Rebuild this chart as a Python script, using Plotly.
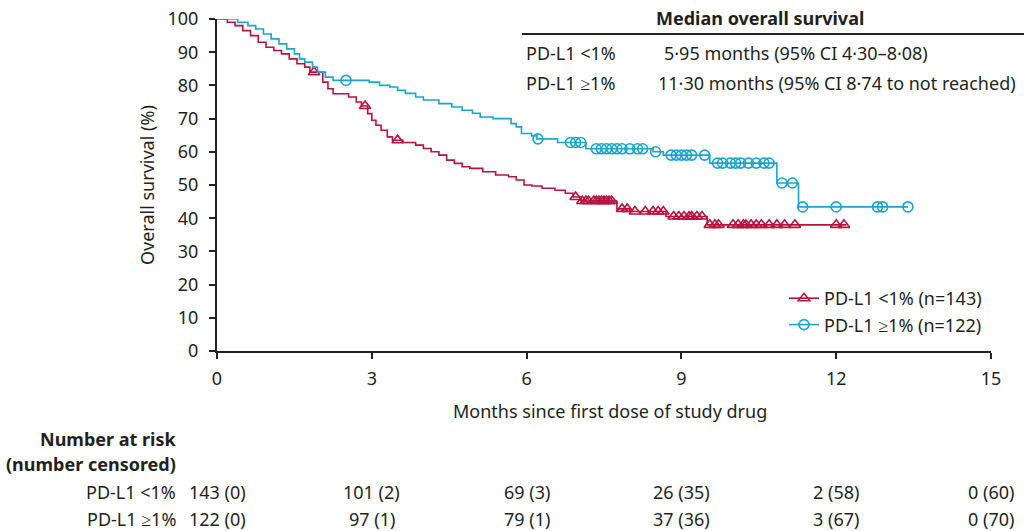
import plotly.graph_objects as go

# ---------------- data ----------------
red_times = [0, 0.2, 0.35, 0.5, 0.65, 0.8, 0.95, 1.1, 1.25, 1.4, 1.55, 1.7, 1.8,
             2.05, 2.15, 2.25, 2.55, 2.7, 2.8, 2.92, 3.0, 3.08, 3.18, 3.3, 3.4,
             3.6, 3.85, 4.0, 4.15, 4.3, 4.45, 4.6, 4.75, 4.9, 5.15, 5.4, 5.65,
             5.8, 5.95, 6.1, 6.3, 6.55, 6.75, 6.9, 7.05, 7.75, 8.0, 8.7, 9.5]
red_surv = [100, 99, 98, 96.5, 95, 93, 91.5, 90.5, 89.5, 88, 86.5, 85.5, 84,
            81, 79, 77.5, 76.5, 75, 73.8, 71.5, 69.5, 68, 66.5, 64.5, 63.5,
            62.8, 62, 61, 60, 59, 57.5, 56.5, 55.5, 55, 54, 53, 52.5,
            51.5, 50, 49.7, 49, 48.4, 47.5, 46.4, 45.2, 42.8, 42, 40.5, 38]
red_end = 12.2
red_censor = [1.88, 2.87, 3.5, 6.95, 7.08, 7.15, 7.2, 7.3, 7.35, 7.4, 7.45, 7.5,
              7.55, 7.6, 7.65, 7.85, 7.95, 8.1, 8.3, 8.45, 8.55, 8.65, 8.85,
              8.95, 9.05, 9.15, 9.2, 9.3, 9.4, 9.55, 9.65, 9.72, 10.0, 10.1,
              10.2, 10.25, 10.35, 10.45, 10.55, 10.7, 10.85, 11.0, 11.2, 12.0,
              12.15]

blue_times = [0, 0.4, 0.6, 0.75, 0.9, 1.05, 1.2, 1.35, 1.5, 1.6, 1.7, 1.85,
              1.95, 2.1, 2.25, 2.95, 3.15, 3.35, 3.5, 3.65, 3.85, 4.0, 4.3,
              4.55, 4.75, 4.95, 5.1, 5.35, 5.7, 5.8, 5.9, 6.1, 6.2, 6.6, 7.15,
              8.45, 8.65, 9.55, 10.85, 11.27]
blue_surv = [100, 99, 98, 97, 95.5, 94, 92.5, 91, 89.5, 88, 87, 85.5,
             84, 82.5, 81.5, 81, 80, 79.5, 78.5, 77.6, 76.5, 75.6, 74.5,
             73.5, 72.5, 71.6, 70.5, 70, 68.5, 67.5, 65.5, 64.8, 63.9, 62.8, 60.9,
             60, 59, 56.6, 50.6, 43.4]
blue_end = 13.39
blue_censor = [2.5, 6.22, 6.85, 6.95, 7.05, 7.35, 7.45, 7.55, 7.65, 7.75, 7.85,
               8.0, 8.15, 8.25, 8.5, 8.8, 8.9, 9.0, 9.1, 9.2, 9.45, 9.7, 9.8,
               9.95, 10.05, 10.15, 10.3, 10.45, 10.6, 10.7, 10.95, 11.15, 11.35,
               12.0, 12.8, 12.9, 13.39]

x_ticks = [0, 3, 6, 9, 12, 15]
y_ticks = list(range(0, 101, 10))

group_labels = ["PD-L1 <1%", "PD-L1 \u22651%"]
legend_labels = ["PD-L1 <1% (n=143)", "PD-L1 \u22651% (n=122)"]
risk_red = ["143 (0)", "101 (2)", "69 (3)", "26 (35)", "2 (58)", "0 (60)"]
risk_blue = ["122 (0)", "97 (1)", "79 (1)", "37 (36)", "3 (67)", "0 (70)"]
median_text = ["5\u00b795 months (95% CI 4\u00b730\u20138\u00b708)",
               "11\u00b730 months (95% CI 8\u00b774 to not reached)"]

# ---------------- styling ----------------
RED = "#B8123E"
BLUE = "#1CA4CC"
TXT = "#231F20"
FONT = "Noto Sans"
FS = 18


def surv_at(t, times, surv):
    val = surv[0]
    for ti, si in zip(times, surv):
        if ti <= t:
            val = si
    return val


fig = go.Figure()

for times, surv, end, cens, color, sym, name in [
    (red_times, red_surv, red_end, red_censor, RED, "triangle-up-open", legend_labels[0]),
    (blue_times, blue_surv, blue_end, blue_censor, BLUE, "circle-open", legend_labels[1]),
]:
    xs = list(times) + [end]
    ys = list(surv) + [surv[-1]]
    fig.add_trace(go.Scatter(x=xs, y=ys, mode="lines", line=dict(color=color, width=1.6, shape="hv"),
                             showlegend=False, hoverinfo="skip", cliponaxis=False))
    fig.add_trace(go.Scatter(x=cens, y=[surv_at(t, times, surv) for t in cens], mode="markers",
                             marker=dict(symbol=sym, size=10, color=color, line=dict(color=color, width=1.6)),
                             showlegend=False, cliponaxis=False))
    fig.add_trace(go.Scatter(x=[None], y=[None], mode="lines+markers", name=name,
                             line=dict(color=color, width=1.6),
                             marker=dict(symbol=sym, size=10, color=color, line=dict(color=color, width=1.6))))

L, R, T, B = 217, 33, 19, 180
W, H = 1024, 531
pw = W - L - R
ph = H - T - B


def px(xp):
    return (xp - L) / pw


def py(yp):
    return (H - B - yp) / ph


def ann(xp, yp, text, xanchor="left", **kw):
    d = dict(x=px(xp), y=py(yp), xref="paper", yref="paper", text=text, showarrow=False,
             xanchor=xanchor, yanchor="middle", font=dict(size=FS, color=TXT))
    d.update(kw)
    return d


annotations = []
annotations.append(ann(147, 185, "Overall survival (%)", xanchor="center", textangle=-90))
annotations.append(ann(610, 411, "Months since first dose of study drug", xanchor="center"))
# median table
annotations.append(ann(760, 18, "<b>Median overall survival</b>", xanchor="center"))
annotations.append(ann(524, 53, group_labels[0]))
annotations.append(ann(524, 83, group_labels[1]))
annotations.append(ann(662, 53, median_text[0]))
annotations.append(ann(656, 83, median_text[1]))
# number at risk
annotations.append(ann(178, 439, "<b>Number at risk</b>", xanchor="right"))
annotations.append(ann(178, 464, "<b>(number censored)</b>", xanchor="right"))
for lab, row, yy in [(group_labels[0], risk_red, 492), (group_labels[1], risk_blue, 519)]:
    annotations.append(ann(178, yy, lab, xanchor="right"))
    for xt, v in zip(x_ticks, row):
        annotations.append(dict(x=xt, y=py(yy), xref="x", yref="paper", text=v, xanchor="center",
                                yanchor="middle", showarrow=False, font=dict(size=FS, color=TXT)))

fig.update_layout(
    width=W, height=H,
    margin=dict(l=L, r=R, t=T, b=B, pad=0, autoexpand=False),
    paper_bgcolor="white", plot_bgcolor="white",
    font=dict(family=FONT, size=FS, color=TXT),
    xaxis=dict(range=[0, 15], tickvals=x_ticks, showgrid=False, zeroline=False, automargin=False,
               showline=True, linecolor="#222", linewidth=2, ticks="outside", ticklen=6,
               tickwidth=1.5, tickcolor="#222", tickfont=dict(size=FS, color=TXT),
               ticklabelstandoff=4),
    yaxis=dict(range=[0, 100], tickvals=y_ticks, showgrid=False, zeroline=False, automargin=False,
               showline=True, linecolor="#222", linewidth=2, ticks="outside", ticklen=6,
               tickwidth=1.5, tickcolor="#222", tickfont=dict(size=FS, color=TXT),
               ticklabelstandoff=7),
    legend=dict(x=px(784), y=py(280), xanchor="left", yanchor="top", bgcolor="rgba(0,0,0,0)",
                font=dict(size=FS, color=TXT), itemwidth=30, tracegroupgap=0),
    shapes=[dict(type="line", xref="paper", yref="paper", x0=px(522), x1=px(1024), y0=py(34), y1=py(34),
                 line=dict(color="#222", width=2))],
    annotations=annotations,
)

fig.write_html("out.html")
